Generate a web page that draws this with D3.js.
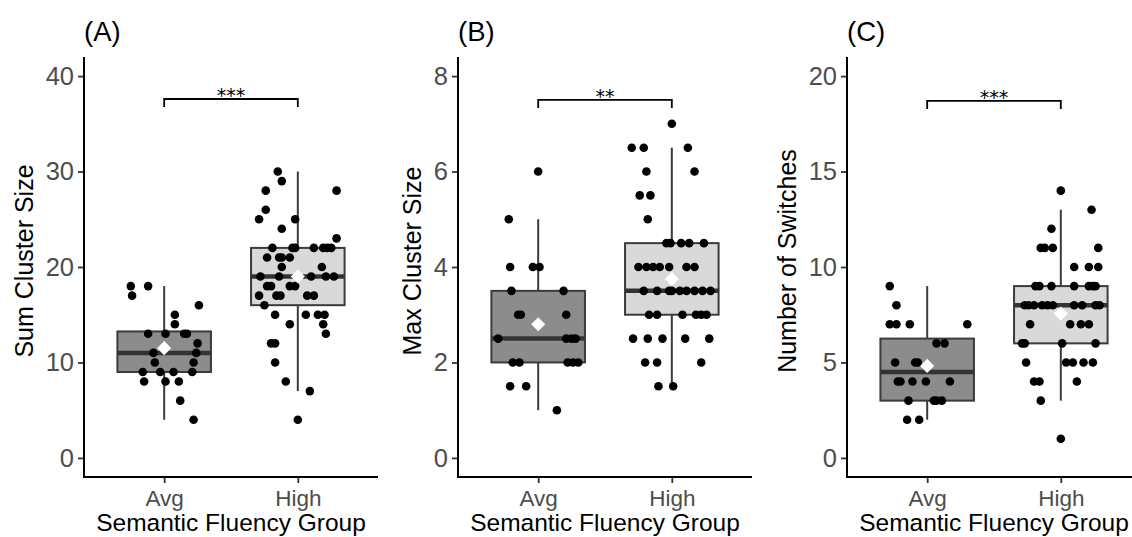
<!DOCTYPE html>
<html>
<head>
<meta charset="utf-8">
<script src="https://cdn.jsdelivr.net/npm/d3@7"></script>
<style>
  body { margin: 0; background: #fff; }
  svg { font-family: "Liberation Sans", Arial, sans-serif; }
</style>
</head>
<body>
<script>
// ---- data ----
var groups = ['Avg', 'High'];
var panelTags = ['(A)', '(B)', '(C)'];
var yTitles = ['Sum Cluster Size', 'Max Cluster Size', 'Number of Switches'];
var xTitle = 'Semantic Fluency Group';
var yTicks = [[0, 10, 20, 30, 40], [0, 2, 4, 6, 8], [0, 5, 10, 15, 20]];
var yDomains = [[-2, 42], [-0.4, 8.4], [-1, 21]];
var sigLabels = ['***', '**', '***'];
var sigHeights = [37.6, 7.5, 18.7];

// box stats per group: [whisker low, q1, median, q3, whisker high, mean]
var sumBox = [[4, 9, 11, 13.25, 18, 11.5], [7, 16, 19, 22, 30, 19]];
var maxBox = [[1, 2, 2.5, 3.5, 5, 2.8], [1.5, 3, 3.5, 4.5, 6.5, 3.75]];
var swBox  = [[2, 3, 4.5, 6.25, 9, 4.82], [3, 6, 8, 9, 13, 7.56]];

// individual points; jitter = horizontal offset as a fraction of the group step
var sumAvg    = [18, 18, 17, 16, 15, 14, 13, 13, 13, 13, 12, 11, 11, 10, 10, 9, 9, 9, 9, 8, 8, 8, 6, 4];
var sumAvgJit = [-0.25, -0.12, -0.24, 0.26, 0.08, 0.08, -0.12, 0.01, 0.15, 0.17, 0.25, -0.08, 0.24, -0.07, 0.22, -0.16, -0.03, 0.07, 0.21, -0.15, 0.01, 0.11, 0.12, 0.22];
var sumHigh    = [30, 29, 28, 28, 26, 25, 25, 24, 23, 22, 22, 22, 22, 22, 22, 22, 21, 21, 21, 21, 20, 20,
                  19, 19, 19, 19, 19, 18, 18, 18, 18, 17, 17, 17, 17, 17, 16, 15, 15, 15, 15, 14, 14, 13, 12, 12, 10, 8, 7, 4];
var sumHighJit = [-0.15, -0.12, -0.24, 0.29, -0.24, -0.29, -0.02, -0.12, 0.29, -0.19, -0.04, -0.02, 0.12, 0.19, 0.22, 0.25,
                  -0.23, -0.14, -0.12, -0.06, -0.12, 0.18, -0.28, -0.14, 0.10, 0.21, 0.27, -0.23, -0.20, -0.06, -0.02,
                  -0.29, -0.16, -0.13, 0.07, 0.12, -0.25, -0.17, 0.06, 0.15, 0.20, -0.06, 0.19, 0.21, -0.20, -0.17, -0.17, -0.09, 0.09, 0.00];

var maxAvg    = [6, 5, 4, 4, 4, 3.5, 3.5, 3, 3, 3, 2.5, 2.5, 2.5, 2.5, 2, 2, 2, 2, 2, 1.5, 1.5, 1];
var maxAvgJit = [0.00, -0.22, -0.21, -0.04, 0.01, -0.20, 0.19, -0.15, -0.13, 0.21, -0.30, 0.21, 0.25, 0.28, -0.19, -0.14, 0.22, 0.26, 0.30, -0.21, -0.09, 0.14];
var maxHigh    = [7, 6.5, 6.5, 6.5, 6, 6, 5.5, 5.5, 5, 4.5, 4.5, 4.5, 4.5, 4.5, 4, 4, 4, 4, 4, 4, 4,
                  3.5, 3.5, 3.5, 3.5, 3.5, 3.5, 3.5, 3.5, 3.5, 3, 3, 3, 3, 3, 3, 2.5, 2.5, 2.5, 2.5, 2.5, 2, 2, 2, 1.5, 1.5];
var maxHighJit = [0.00, -0.30, -0.21, 0.12, -0.19, 0.17, -0.24, -0.16, -0.18, -0.04, -0.01, 0.07, 0.13, 0.24,
                  -0.25, -0.19, -0.14, -0.09, -0.02, 0.11, 0.17, -0.21, -0.11, -0.02, 0.00, 0.06, 0.11, 0.17, 0.23, 0.29,
                  -0.17, -0.11, 0.08, 0.18, 0.22, 0.26, -0.29, -0.18, -0.07, 0.10, 0.28, -0.20, -0.11, 0.22, -0.10, 0.01];

var swAvg    = [9, 8, 7, 7, 7, 7, 6, 6, 5, 5, 5, 4, 4, 4, 4, 4, 3, 3, 3, 3, 2, 2];
var swAvgJit = [-0.28, -0.23, -0.28, -0.23, -0.13, 0.30, 0.07, 0.13, -0.24, -0.09, -0.07, -0.22, -0.20, -0.11, -0.01, 0.17, -0.14, 0.05, 0.07, 0.11, -0.15, -0.06];
var swHigh    = [14, 13, 12, 11, 11, 11, 11, 10, 10, 10, 9, 9, 9, 9, 9, 9, 9, 8, 8, 8, 8, 8, 8, 8, 8, 8, 8,
                 7, 7, 7, 7, 6, 6, 6, 6, 5, 5, 5, 5, 5, 4, 4, 4, 3, 1];
var swHighJit = [0.00, 0.23, -0.07, -0.15, -0.12, -0.06, 0.28, 0.10, 0.21, 0.28, -0.19, -0.16, -0.07, 0.10, 0.21, 0.24, 0.26,
                 -0.27, -0.24, -0.20, -0.14, -0.10, -0.06, 0.10, 0.16, 0.26, 0.29, -0.23, 0.07, 0.15, 0.21,
                 -0.29, -0.27, 0.01, 0.26, -0.26, 0.04, 0.09, 0.17, 0.24, -0.20, -0.16, 0.12, -0.15, 0.00];

var panels = [
  { box: sumBox, pts: [[sumAvg, sumAvgJit], [sumHigh, sumHighJit]] },
  { box: maxBox, pts: [[maxAvg, maxAvgJit], [maxHigh, maxHighJit]] },
  { box: swBox,  pts: [[swAvg, swAvgJit],   [swHigh, swHighJit]] }
];

// ---- layout ----
var width = 1132, height = 537;
var panelLeft = [84, 458, 847];
var panelW = 294, plotTop = 57, plotBottom = 477;
var fills = ['#8c8c8c', '#d9d9d9'];
var lineCol = '#3b3b3b';

var svg = d3.select('body').append('svg')
  .attr('width', width).attr('height', height);

panels.forEach(function (p, i) {
  var g = svg.append('g').attr('transform', 'translate(' + panelLeft[i] + ',0)');
  var x = d3.scalePoint().domain(groups).range([0, panelW]).padding(0.6);
  var step = x.step();
  var y = d3.scaleLinear().domain(yDomains[i]).range([plotBottom, plotTop]);
  var bw = step * 0.7;

  // boxes
  p.box.forEach(function (b, k) {
    var cx = x(groups[k]);
    g.append('line')
      .attr('x1', cx).attr('x2', cx).attr('y1', y(b[0])).attr('y2', y(b[4]))
      .attr('stroke', lineCol).attr('stroke-width', 2);
    g.append('rect')
      .attr('x', cx - bw / 2).attr('width', bw)
      .attr('y', y(b[3])).attr('height', y(b[1]) - y(b[3]))
      .attr('fill', fills[k]).attr('stroke', lineCol).attr('stroke-width', 2);
    g.append('line')
      .attr('x1', cx - bw / 2).attr('x2', cx + bw / 2)
      .attr('y1', y(b[2])).attr('y2', y(b[2]))
      .attr('stroke', '#333').attr('stroke-width', 4.5);
  });

  // jittered points
  p.pts.forEach(function (s, k) {
    var cx = x(groups[k]);
    g.append('g').selectAll('circle')
      .data(s[0])
      .join('circle')
      .attr('cx', function (d, j) { return cx + s[1][j] * step; })
      .attr('cy', function (d) { return y(d); })
      .attr('r', 4.3)
      .attr('fill', '#000');
  });

  // means
  var diamond = d3.symbol().type(d3.symbolSquare).size(100);
  p.box.forEach(function (b, k) {
    g.append('path')
      .attr('d', diamond)
      .attr('transform', 'translate(' + x(groups[k]) + ',' + y(b[5]) + ') rotate(45)')
      .attr('fill', '#fff');
  });

  // axes
  var yAxis = d3.axisLeft(y).tickValues(yTicks[i]).tickSize(6).tickPadding(4);
  var ya = g.append('g').call(yAxis);
  var xAxis = d3.axisBottom(x).tickSize(6).tickPadding(7);
  var xa = g.append('g').attr('transform', 'translate(0,' + plotBottom + ')').call(xAxis);
  [ya, xa].forEach(function (a) {
    a.select('.domain').remove();
    a.selectAll('.tick line').attr('stroke', '#333').attr('stroke-width', 1.8);
    a.selectAll('.tick text').attr('fill', '#4d4d4d');
  });
  ya.selectAll('.tick text').style('font-size', '25.5px');
  xa.selectAll('.tick text').style('font-size', '22.5px').attr('dy', '0.71em');
  g.append('line').attr('x1', 0).attr('x2', 0).attr('y1', plotTop).attr('y2', plotBottom + 1)
    .attr('stroke', '#000').attr('stroke-width', 2);
  g.append('line').attr('x1', -1).attr('x2', panelW).attr('y1', plotBottom).attr('y2', plotBottom)
    .attr('stroke', '#000').attr('stroke-width', 2);

  // axis titles
  var labW = d3.max(ya.selectAll('.tick text').nodes(), function (n) { return n.getBBox().width; });
  g.append('text')
    .attr('transform', 'translate(' + (-10 - labW - 12.5) + ',261) rotate(-90)')
    .attr('text-anchor', 'middle')
    .style('font-size', '25px')
    .text(yTitles[i]);
  g.append('text')
    .attr('x', panelW / 2).attr('y', 531)
    .attr('text-anchor', 'middle')
    .style('font-size', '24.5px')
    .text(xTitle);

  // panel tag
  g.append('text').attr('x', 0).attr('y', 41).style('font-size', '27.5px').text(panelTags[i]);

  // significance bracket
  var by = y(sigHeights[i]);
  var x1 = x(groups[0]), x2 = x(groups[1]);
  g.append('path')
    .attr('d', 'M' + x1 + ',' + (by + 8) + 'V' + by + 'H' + x2 + 'V' + (by + 8))
    .attr('fill', 'none').attr('stroke', '#000').attr('stroke-width', 1.8);
  g.append('text')
    .attr('x', (x1 + x2) / 2).attr('y', by + 3)
    .attr('text-anchor', 'middle')
    .style('font-family', '"DejaVu Sans", sans-serif')
    .style('font-size', '19px')
    .text(sigLabels[i]);
});
</script>
</body>
</html>
